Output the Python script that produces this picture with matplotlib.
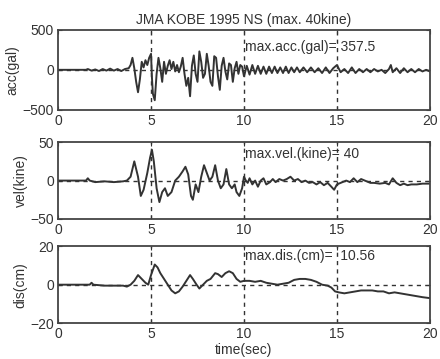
#!/usr/bin/env python3
"""
JMA KOBE 1995 NS record: acceleration, velocity and displacement traces.
"""

import matplotlib
matplotlib.use('Agg')
import matplotlib.pyplot as plt

# acceleration (gal)
acc_t = [0.0, 1.5, 1.6, 1.8, 2.0, 2.2, 2.4, 2.6, 2.8, 3.0, 3.2, 3.4, 3.6, 3.8, 3.9,
         4.0, 4.1, 4.2, 4.3, 4.4, 4.5, 4.6, 4.7, 4.8, 4.9, 5.0, 5.05, 5.1, 5.2, 5.3,
         5.4, 5.5, 5.6, 5.7, 5.8, 5.9, 6.0, 6.1, 6.2, 6.3, 6.4, 6.5, 6.6, 6.7, 6.8,
         6.9, 7.0, 7.1, 7.2, 7.3, 7.4, 7.5, 7.6, 7.7, 7.8, 7.9, 8.0, 8.1, 8.2, 8.3,
         8.4, 8.5, 8.6, 8.7, 8.8, 8.9, 9.0, 9.1, 9.2, 9.3, 9.4, 9.5, 9.6, 9.7, 9.8,
         9.9, 10.0, 10.15, 10.3, 10.45, 10.6, 10.75, 10.9, 11.05, 11.2, 11.35, 11.5,
         11.65, 11.8, 11.95, 12.1, 12.25, 12.4, 12.55, 12.7, 12.85, 13.0, 13.2, 13.4,
         13.6, 13.8, 14.0, 14.2, 14.4, 14.6, 14.8, 15.0, 15.2, 15.4, 15.6, 15.8, 16.0,
         16.2, 16.4, 16.6, 16.8, 17.0, 17.2, 17.4, 17.6, 17.8, 17.9, 18.0, 18.2, 18.4,
         18.6, 18.8, 19.0, 19.2, 19.4, 19.6, 19.8, 20.0]
acc_v = [0, 0, 10, -10, 5, -15, 10, -10, 15, -10, 10, -15, 10, 20, 60,
         150, 20, -150, -280, -120, 100, 30, 120, 60, 150, 200, -100, -300, -380, -50,
         150, 20, -150, 100, -50, 50, 120, 10, 100, -20, 60, -30, 40, 150, -50,
         -200, -100, -330, 50, 180, -50, -150, 230, 100, -100, -50, 200, 50, -150, -200,
         170, 150, -80, -250, 50, 150, -20, -120, 80, 60, -150, 20, 100, -50, 60,
         40, -80, 50, -60, 60, -50, 50, -50, 40, -50, 40, -40,
         40, -40, 30, -40, 40, -40, 30, -30, 30, -30, 30, -30,
         30, -30, 20, -40, 30, -40, 20, 60, -30, 10, -40, 30, -40,
         10, -30, 10, -30, 10, -20, 0, -40, 10, 60, -30, 20, -40,
         20, -30, 10, -30, 10, -20, 0, -20]

# velocity (kine)
vel_t = [0.0, 1.5, 1.6, 1.7, 2.0, 2.5, 3.0, 3.5, 3.7, 3.9, 4.1, 4.3, 4.45, 4.6, 4.8,
         4.95, 5.05, 5.15, 5.3, 5.45, 5.6, 5.75, 5.9, 6.1, 6.3, 6.5, 6.7, 6.85, 7.0,
         7.15, 7.25, 7.4, 7.55, 7.7, 7.85, 8.0, 8.15, 8.3, 8.45, 8.6, 8.75, 8.9, 9.05,
         9.2, 9.35, 9.5, 9.6, 9.75, 9.9, 10.0, 10.1, 10.2, 10.3, 10.45, 10.6, 10.75,
         10.9, 11.05, 11.2, 11.4, 11.55, 11.7, 11.9, 12.1, 12.3, 12.5, 12.7, 12.9, 13.1,
         13.3, 13.5, 13.7, 13.9, 14.1, 14.3, 14.5, 14.7, 14.85, 15.0, 15.2, 15.5, 15.7,
         15.9, 16.1, 16.3, 16.5, 16.8, 17.0, 17.3, 17.6, 17.8, 18.0, 18.2, 18.4, 18.6,
         18.8, 19.0, 19.3, 19.6, 20.0]
vel_v = [0, 0, 3, 0, -2, -1, -2, -1, 0, 5, 25, 5, -20, -12, 10,
         30, 40, 25, -10, -28, -15, -10, -20, -15, 0, 5, 12, 18, 8,
         -20, -25, -5, -15, 5, 20, 10, 0, 5, 20, 0, -10, -5, 15,
         -5, -10, -5, -15, -20, -10, 5, 0, -3, 3, -5, 0, -8,
         0, 3, -5, -2, 2, -2, 2, 0, 2, 5, 0, 2, -2,
         0, -3, -2, -5, -2, -6, -3, -8, -12, -5, -3, 0, -2,
         3, -2, 2, 0, -3, -3, -4, -3, -5, 3, -3, -6, -4,
         -6, -5, -5, -4, -4]

# displacement (cm)
dis_t = [0.0, 1.7, 1.8, 1.9, 2.5, 3.0, 3.5, 3.7, 3.9, 4.1, 4.3, 4.5, 4.7, 4.85, 5.0,
         5.2, 5.35, 5.5, 5.7, 5.9, 6.1, 6.3, 6.5, 6.7, 6.9, 7.1, 7.25, 7.45, 7.6, 7.8,
         8.0, 8.2, 8.45, 8.6, 8.8, 9.0, 9.2, 9.4, 9.6, 9.8, 10.0, 10.3, 10.6, 10.9,
         11.2, 11.5, 11.8, 12.1, 12.4, 12.7, 13.0, 13.3, 13.6, 13.9, 14.2, 14.5, 14.7,
         14.9, 15.1, 15.4, 15.7, 16.0, 16.3, 16.6, 16.9, 17.2, 17.5, 17.8, 18.1, 18.4,
         18.7, 19.0, 19.3, 19.6, 20.0]
dis_v = [0, 0, 1, 0, -0.5, -0.5, -0.5, -1, 0, 2, 5, 3, 1, 0, 5,
         10.5, 9, 6, 3, 0, -3, -4.5, -3.5, -1, 2, 5, 3, 0, -2, 0,
         2, 3, 6, 5.5, 4, 6, 7, 6, 3, 1.5, 2, 2, 1.5, 2,
         1, 0.5, 0, 0.5, 1, 2.5, 3, 3, 2.5, 1.5, 0, -0.5, -1.5,
         -3.5, -4, -4.5, -4, -3.5, -3, -3, -3, -3.5, -3.5, -4.5, -4, -4.5,
         -5, -5.5, -6, -6.5, -7]

plt.rcParams['font.family'] = ['Liberation Sans', 'DejaVu Sans']
line_color = '#333333'

fig = plt.figure(figsize=(4.4, 3.59), dpi=100)
ax_acc = fig.add_axes([0.132, 0.694, 0.845, 0.223])
ax_vel = fig.add_axes([0.132, 0.390, 0.845, 0.214])
ax_dis = fig.add_axes([0.132, 0.100, 0.845, 0.214])

panels = [
    (ax_acc, acc_t, acc_v, 500, 'acc(gal)', 'max.acc.(gal)= 357.5', 290),
    (ax_vel, vel_t, vel_v, 50, 'vel(kine)', 'max.vel.(kine)= 40', 35),
    (ax_dis, dis_t, dis_v, 20, 'dis(cm)', 'max.dis.(cm)=  10.56', 15),
]

for ax, t, v, lim, ylab, note, ny in panels:
    ax.plot(t, v, color=line_color, linewidth=1.4)
    ax.set_xlim(0, 20)
    ax.set_ylim(-lim, lim)
    ax.set_xticks([0, 5, 10, 15, 20])
    ax.set_yticks([-lim, 0, lim])
    ax.grid(True, linestyle=(0, (3, 3)), color='#333333', linewidth=1.0)
    # grid lines sitting on the frame would make the frame look dashed
    xg = ax.get_xgridlines()
    yg = ax.get_ygridlines()
    for gl in (xg[0], xg[-1], yg[0], yg[-1]):
        gl.set_visible(False)
    ax.tick_params(direction='in', length=3, labelsize=10, colors='#333333', pad=3,
                   top=True, right=True)
    for s in ax.spines.values():
        s.set_color('#444444')
        s.set_linewidth(1.3)
    ax.set_ylabel(ylab, fontsize=10, color='#333333', labelpad=2)
    ax.text(10.05, ny, note, fontsize=10, color='#333333', va='center', ha='left')

ax_acc.set_title('JMA KOBE 1995 NS (max. 40kine)', fontsize=10, color='#333333', pad=4)
ax_dis.set_xlabel('time(sec)', fontsize=10, color='#333333', labelpad=1)

fig.savefig('out.png', dpi=100)
